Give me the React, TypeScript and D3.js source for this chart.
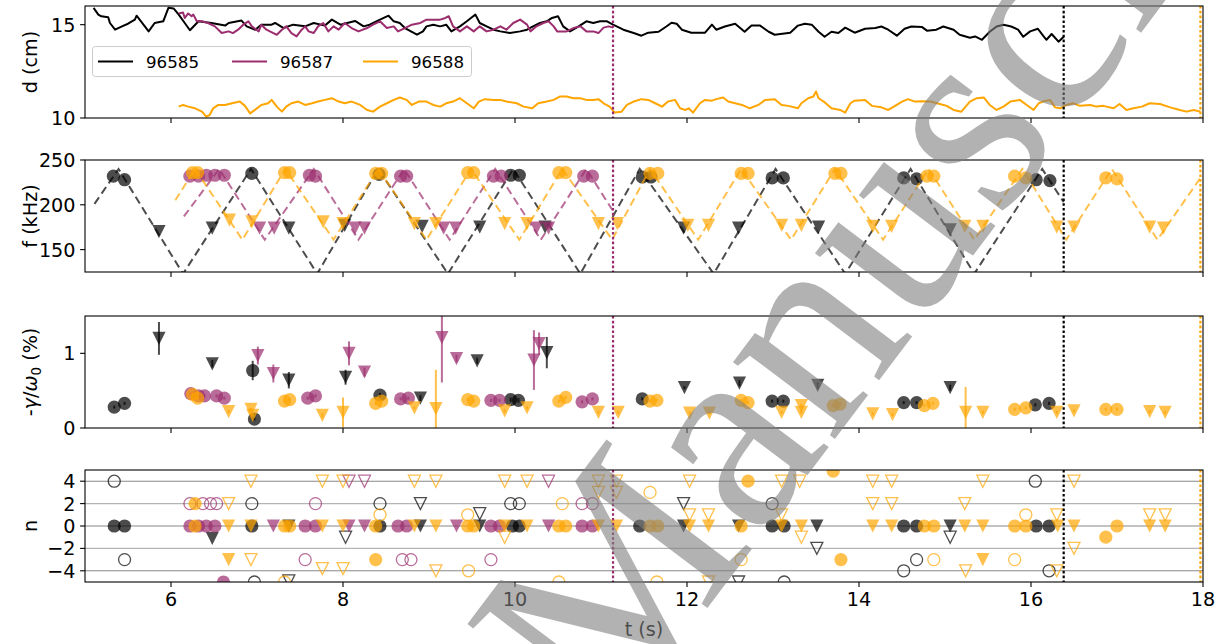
import React from 'react';
import * as d3 from 'd3';

const W = 1226, H = 644;
const X0 = 85, X1 = 1203;
const PANELS = [
  { top: 6, bottom: 118 },
  { top: 160, bottom: 272 },
  { top: 316, bottom: 428 },
  { top: 470, bottom: 582 },
];
const FONT = 'DejaVu Sans';
const FS = 19.2;
const FS_LEG = 16.7;

const tDomain = [5, 18];
const xTicks = [6, 8, 10, 12, 14, 16, 18];
const dDomain = [10, 16];
const dTicks = [10, 15];
const fDomain = [125, 250];
const fTicks = [150, 200, 250];
const gDomain = [0, 1.5];
const gTicks = [0, 1];
const nDomain = [-5, 5];
const nTicks = [-4, -2, 0, 2, 4];

const shots = ['96585', '96587', '96588'];
const shotColors: Record<string, string> = { '96585': '#000000', '96587': '#9b2d6e', '96588': '#ffa500' };
const endTimes: Record<string, number> = { '96585': 16.38, '96587': 11.14, '96588': 17.97 };

// Panel 1: distance d (cm) vs time
const dist96585 = [
  [5.10,15.90],[5.155,15.54],[5.19,15.45],[5.27,15.40],[5.29,15.09],[5.35,14.73],[5.43,14.91],[5.50,15.05],
  [5.58,15.27],[5.60,15.48],[5.68,15.00],[5.74,14.64],[5.81,15.09],[5.91,15.18],[5.97,15.90],[6.03,15.87],
  [6.09,15.54],[6.16,15.09],[6.22,14.70],[6.32,15.18],[6.47,15.09],[6.63,14.95],[6.67,15.09],[6.82,15.22],
  [6.88,14.91],[6.98,14.73],[7.05,15.00],[7.17,15.00],[7.21,15.09],[7.31,14.82],[7.42,15.00],[7.56,14.91],
  [7.66,15.09],[7.79,14.95],[7.87,15.27],[7.97,15.00],[8.14,15.20],[8.24,14.91],[8.31,15.00],[8.43,15.27],
  [8.53,15.48],[8.59,15.18],[8.66,15.09],[8.72,14.82],[8.86,14.46],[8.93,14.64],[8.97,14.91],[9.05,15.00],
  [9.13,14.91],[9.20,15.00],[9.26,14.64],[9.36,14.91],[9.44,15.18],[9.54,15.54],[9.59,15.09],[9.67,14.91],
  [9.75,14.73],[9.83,14.64],[9.94,14.55],[10.06,14.64],[10.14,14.73],[10.21,14.91],[10.29,15.09],[10.37,15.18],
  [10.43,15.36],[10.50,15.45],[10.56,14.91],[10.64,14.64],[10.74,14.91],[10.83,15.18],[10.91,15.09],[10.99,15.18],
  [11.07,15.18],[11.14,15.00],[11.26,14.73],[11.38,14.55],[11.47,14.41],[11.55,14.57],[11.67,14.62],[11.76,14.90],
  [11.82,15.10],[11.88,15.05],[11.94,14.73],[12.05,14.57],[12.21,14.57],[12.29,15.00],[12.34,14.73],[12.44,14.90],
  [12.56,15.05],[12.67,14.62],[12.75,14.95],[12.85,14.95],[12.95,14.62],[13.02,14.46],[13.20,14.57],[13.29,14.95],
  [13.37,15.05],[13.45,15.00],[13.53,14.62],[13.60,14.35],[13.68,14.62],[13.76,14.55],[13.84,14.84],[13.95,14.57],
  [14.07,14.78],[14.19,14.82],[14.26,14.90],[14.34,14.73],[14.44,14.41],[14.53,14.78],[14.61,14.90],[14.73,14.88],
  [14.79,14.68],[14.90,14.73],[14.98,14.90],[15.10,14.73],[15.17,14.46],[15.29,14.30],[15.35,14.37],[15.43,14.19],
  [15.52,14.62],[15.60,14.90],[15.68,15.00],[15.77,14.90],[15.85,14.73],[15.91,14.35],[15.99,14.64],[16.08,14.78],
  [16.14,14.41],[16.18,14.19],[16.24,14.50],[16.32,14.09],[16.38,14.35],
];
const dist96587 = [
  [6.09,15.60],[6.14,15.65],[6.16,15.36],[6.20,15.60],[6.24,15.45],[6.26,15.54],[6.30,15.18],[6.36,15.18],
  [6.43,15.09],[6.51,14.91],[6.59,14.55],[6.67,14.64],[6.72,14.55],[6.78,14.73],[6.84,15.00],[6.90,15.18],
  [6.94,14.91],[7.02,14.64],[7.05,15.00],[7.11,14.73],[7.19,14.55],[7.23,14.46],[7.29,14.73],[7.34,14.91],
  [7.40,14.55],[7.46,14.37],[7.52,14.73],[7.56,14.91],[7.60,14.64],[7.66,14.55],[7.71,14.91],[7.77,15.09],
  [7.83,14.64],[7.89,14.91],[7.95,14.73],[8.02,15.09],[8.10,14.82],[8.18,14.64],[8.28,14.82],[8.35,15.00],
  [8.43,15.18],[8.51,14.82],[8.59,14.91],[8.64,14.64],[8.72,14.82],[8.80,15.00],[8.90,15.09],[8.97,15.27],
  [9.13,15.27],[9.19,15.36],[9.23,15.45],[9.28,14.91],[9.36,14.64],[9.44,14.91],[9.52,14.64],[9.59,14.91],
  [9.67,14.64],[9.75,14.73],[9.83,14.91],[9.90,14.73],[9.98,15.09],[10.06,15.27],[10.14,15.00],[10.18,14.64],
  [10.25,14.91],[10.33,15.09],[10.39,15.18],[10.45,14.91],[10.49,14.64],[10.60,14.64],[10.68,14.82],[10.76,14.91],
  [10.83,14.64],[10.91,14.64],[10.97,14.55],[11.03,14.84],[11.09,14.91],[11.14,14.84],
];
const dist96588 = [
  [6.09,10.61],[6.14,10.70],[6.20,10.61],[6.28,10.52],[6.36,10.34],[6.41,10.07],[6.45,10.16],[6.49,10.52],
  [6.55,10.70],[6.63,10.70],[6.71,10.79],[6.80,10.88],[6.86,10.65],[6.92,10.25],[6.98,10.45],[7.05,10.70],
  [7.13,10.79],[7.17,10.97],[7.23,10.61],[7.29,10.34],[7.34,10.61],[7.40,10.79],[7.48,10.88],[7.56,10.70],
  [7.64,10.79],[7.71,10.88],[7.79,10.97],[7.87,11.06],[7.95,10.88],[8.02,10.79],[8.10,10.88],[8.20,10.70],
  [8.28,10.43],[8.35,10.34],[8.43,10.61],[8.51,10.79],[8.59,10.97],[8.66,11.10],[8.74,10.97],[8.80,10.70],
  [8.88,10.88],[8.97,10.88],[9.05,10.70],[9.13,10.61],[9.20,10.79],[9.28,10.88],[9.36,11.06],[9.44,10.79],
  [9.52,10.52],[9.58,10.88],[9.65,11.01],[9.75,10.97],[9.83,10.97],[9.90,10.88],[10.02,10.79],[10.10,10.61],
  [10.20,10.52],[10.27,10.79],[10.37,10.88],[10.45,10.97],[10.52,11.15],[10.60,11.15],[10.68,11.06],[10.76,11.06],
  [10.83,10.97],[10.91,10.97],[10.97,11.01],[11.03,10.79],[11.10,10.61],[11.16,10.29],[11.24,10.34],[11.30,10.70],
  [11.38,10.88],[11.47,11.01],[11.55,10.97],[11.63,10.79],[11.71,10.61],[11.78,10.88],[11.86,10.97],[11.92,10.52],
  [11.98,10.43],[12.02,10.52],[12.07,10.29],[12.15,10.79],[12.21,10.97],[12.29,10.93],[12.34,11.01],[12.42,11.10],
  [12.48,10.88],[12.56,10.79],[12.64,10.70],[12.73,10.52],[12.83,10.70],[12.91,10.97],[13.02,11.01],[13.10,10.70],
  [13.18,10.65],[13.29,10.52],[13.33,10.79],[13.41,11.06],[13.47,11.15],[13.50,11.42],[13.53,11.06],[13.59,10.88],
  [13.68,10.52],[13.78,10.43],[13.84,10.29],[13.90,10.79],[13.95,10.93],[14.07,10.97],[14.15,10.65],[14.26,10.57],
  [14.34,10.43],[14.42,10.65],[14.50,10.88],[14.57,11.01],[14.65,10.88],[14.73,10.90],[14.83,10.88],[14.94,10.75],
  [15.02,10.65],[15.10,10.43],[15.19,10.34],[15.29,10.88],[15.37,11.06],[15.45,11.10],[15.52,10.70],[15.60,10.43],
  [15.68,10.61],[15.76,10.88],[15.87,10.97],[15.95,10.70],[16.03,10.43],[16.09,10.79],[16.14,10.88],[16.22,10.97],
  [16.28,10.57],[16.34,10.52],[16.41,10.70],[16.49,10.79],[16.57,10.65],[16.69,10.70],[16.76,10.61],[16.84,10.65],
  [16.96,10.52],[17.03,10.75],[17.11,10.43],[17.19,10.52],[17.29,10.61],[17.38,10.79],[17.50,10.75],[17.62,10.57],
  [17.73,10.43],[17.81,10.34],[17.89,10.43],[17.97,10.34],
];

// Panel 2: frequency sweep (dashed) and detected modes
const sweep96585 = [[5.11,201],[5.39,240],[6.14,123],[6.93,240],[7.70,123],[8.41,240],[9.22,123],[9.98,240],[10.76,123],[11.45,240],[12.31,123],[13.03,240],[13.84,123],[14.60,240],[15.34,123],[16.13,240],[16.38,203]];
const sweep96587 = [[6.15,187],[6.56,240],[7.09,161],[7.66,240],[8.18,161],[8.71,240],[9.24,161],[9.77,240],[10.30,161],[10.83,240],[11.14,193]];
const sweep96588 = [[6.05,205],[6.28,240],[6.83,161],[7.33,240],[7.89,161],[8.41,240],[8.97,161],[9.49,240],[10.05,161],[10.55,240],[11.13,161],[11.57,240],[12.13,161],[12.63,240],[13.21,161],[13.72,240],[14.28,161],[14.81,240],[15.34,161],[15.90,240],[16.41,161],[16.94,240],[17.47,161],[17.97,230]];

const freqCirc96585 = [[5.33,232],[5.46,228],[6.94,235],[8.42,234],[9.95,233],[10.05,233],[11.48,231],[11.58,231],[12.99,230],[13.12,230],[14.52,230],[14.67,229],[16.06,228],[16.22,227]];
const freqTri96585 = [[5.86,170],[6.48,174],[7.37,174],[8.02,177],[8.92,176],[9.59,175],[10.35,175],[11.96,174],[12.60,174],[13.53,175],[15.06,172]];
const freqCirc96587 = [[6.22,232],[6.32,232],[6.41,233],[6.51,233],[6.62,233],[7.61,233],[7.68,232],[8.67,232],[8.74,232],[9.75,232],[9.84,232],[10.80,232],[10.90,232]];
const freqTri96587 = [[7.03,174],[7.20,174],[8.14,174],[8.25,174],[9.17,174],[9.31,174],[10.25,174],[10.39,174]];
const freqCirc96588 = [[6.25,236],[6.31,236],[7.32,236],[7.38,236],[8.38,235],[8.45,235],[9.45,236],[9.52,236],[10.51,236],[10.59,236],[11.57,235],[11.66,235],[12.63,235],[12.71,235],[13.72,235],[13.79,235],[14.79,232],[14.87,232],[15.81,232],[15.94,230],[16.87,230],[17.00,229]];
const freqTri96588 = [[6.68,183],[6.94,181],[7.77,181],[8.00,179],[8.83,179],[9.08,179],[9.88,179],[10.14,179],[10.97,179],[11.19,179],[12.01,177],[12.25,177],[13.10,177],[13.33,177],[14.16,176],[14.38,176],[15.23,176],[15.44,176],[16.30,175],[16.50,175],[17.38,175],[17.54,174]];

// Panel 3: damping rate -gamma/omega0 (%) [t, value, error]
const gamCirc96585 = [[5.34,0.28,0.02],[5.46,0.33,0.02],[6.95,0.77,0.13],[6.97,0.12,0.02],[8.43,0.44,0.03],[9.95,0.38,0.03],[10.04,0.37,0.03],[11.48,0.39,0.02],[12.99,0.36,0.02],[13.12,0.36,0.02],[14.52,0.34,0.02],[14.67,0.34,0.02],[16.05,0.31,0.02],[16.21,0.33,0.02]];
const gamTri96585 = [[5.86,1.20,0.22],[6.48,0.86,0.05],[7.37,0.64,0.11],[8.03,0.68,0.10],[8.90,0.40,0.04],[9.56,0.90,0.04],[10.37,1.01,0.21],[11.97,0.54,0.02],[12.61,0.60,0.04],[13.52,0.57,0.04],[15.06,0.54,0.04]];
const gamCirc96587 = [[6.23,0.46,0.02],[6.32,0.43,0.02],[6.39,0.43,0.02],[6.53,0.43,0.02],[6.62,0.40,0.02],[7.59,0.40,0.02],[7.68,0.43,0.02],[8.67,0.39,0.02],[8.76,0.40,0.02],[9.72,0.37,0.02],[9.82,0.37,0.02],[10.78,0.35,0.02],[10.90,0.39,0.02]];
const gamTri96587 = [[7.01,0.97,0.12],[7.19,0.73,0.12],[8.07,1.00,0.16],[8.25,0.75,0.06],[9.15,1.21,0.60],[9.32,0.93,0.05],[10.22,0.91,0.40],[10.28,1.13,0.15]];
const gamCirc96588 = [[6.25,0.45,0.02],[6.31,0.40,0.02],[7.32,0.36,0.02],[7.38,0.38,0.02],[8.38,0.33,0.02],[8.45,0.36,0.02],[9.45,0.38,0.02],[9.52,0.36,0.02],[10.51,0.36,0.02],[10.59,0.41,0.02],[11.57,0.36,0.02],[11.65,0.37,0.02],[12.63,0.37,0.02],[12.71,0.34,0.02],[13.70,0.30,0.02],[13.78,0.32,0.02],[14.76,0.30,0.02],[14.86,0.33,0.02],[15.81,0.25,0.02],[15.94,0.27,0.02],[16.87,0.25,0.02],[17.00,0.25,0.02]];
const gamTri96588 = [[6.67,0.22,0.02],[6.93,0.25,0.02],[6.95,0.17,0.02],[7.76,0.17,0.03],[8.00,0.21,0.20],[8.83,0.27,0.02],[9.08,0.26,0.52],[9.88,0.23,0.02],[10.14,0.27,0.02],[10.97,0.21,0.02],[11.20,0.21,0.02],[12.03,0.20,0.02],[12.26,0.20,0.02],[13.10,0.21,0.02],[13.33,0.30,0.02],[13.33,0.21,0.02],[14.16,0.19,0.02],[14.39,0.18,0.02],[15.24,0.21,0.34],[15.44,0.21,0.02],[16.30,0.21,0.02],[16.50,0.23,0.02],[17.38,0.22,0.02],[17.56,0.21,0.02]];

// Panel 4: toroidal mode number n (filled = best fit, open = alternatives)
const nFillCirc96585 = [[5.34,0],[5.46,0],[6.94,0],[8.43,0],[9.97,0],[10.05,0],[11.45,0],[12.99,0],[13.13,0],[14.52,0],[14.67,0],[16.06,0],[16.21,0]];
const nFillTri96585 = [[6.48,-1.1],[7.37,0],[8.90,0],[9.59,0],[11.96,0],[12.60,0],[13.51,0],[15.06,0]];
const nOpenCirc96585 = [[5.34,4],[5.46,-3],[6.94,2],[6.97,-5],[8.43,2],[9.95,2],[10.05,2],[12.99,2],[13.13,-5],[14.52,-4],[14.67,-3],[16.05,4],[16.21,-4]];
const nOpenTri96585 = [[7.37,-4.9],[8.03,-1],[8.90,2],[9.59,1.1],[11.96,2],[12.60,-5],[13.51,-2],[15.06,-1]];
const nFillCirc96587 = [[6.22,0],[6.32,0],[6.41,0],[6.51,0],[6.61,-5],[7.56,0],[7.68,0],[8.64,0],[8.74,0],[9.72,0],[9.82,0],[10.78,0],[10.90,0]];
const nFillTri96587 = [[7.19,0],[8.07,0],[8.25,0],[9.32,0],[10.39,0]];
const nOpenCirc96587 = [[6.22,2],[6.37,2],[6.46,2],[6.53,2],[7.56,-3],[7.68,2],[8.69,-3],[8.79,-3],[9.72,-3],[10.78,2],[10.90,2]];
const nOpenTri96587 = [[8.07,4],[8.25,4],[10.39,4]];
const nFillCirc96588 = [[6.28,0],[6.28,2],[7.32,0],[7.38,0],[8.38,0],[8.38,-3],[9.45,0],[9.52,0],[10.51,0],[10.59,0],[11.57,0],[11.66,0],[12.63,0],[12.71,4],[13.70,4.9],[13.79,-3],[14.76,0],[14.87,0],[15.81,0],[15.94,0],[16.87,-1],[17.00,0]];
const nFillTri96588 = [[6.67,0],[6.67,-3],[6.93,0],[7.76,0],[8.00,0],[8.83,0],[9.08,0],[9.88,0],[10.14,0],[10.97,0],[11.18,0],[12.03,0],[12.25,0],[13.10,0],[13.33,0],[14.16,0],[14.38,0],[15.23,0],[15.44,0],[15.44,-3],[16.31,0],[16.50,0],[17.38,0],[17.56,0]];
const nOpenCirc96588 = [[7.32,-5],[8.43,1],[9.45,1],[9.46,-4],[10.51,-5],[10.55,2],[11.57,3],[11.65,-5],[12.63,-3],[14.87,-3],[15.81,-3],[15.94,1]];
const nOpenTri96588 = [[6.67,2],[6.93,4],[6.93,-3],[7.76,4],[7.76,-3.8],[8.00,4],[8.00,-3.8],[8.83,4],[9.08,4],[9.08,-4],[9.88,4],[9.88,-1],[10.14,4],[10.97,4],[10.97,3],[11.18,4],[11.18,3],[12.03,4],[12.03,1],[12.25,1],[12.25,-5],[13.10,4],[13.10,1],[13.31,4],[13.33,-1],[14.16,4],[14.16,2],[14.38,4],[14.38,2],[15.23,2],[15.24,-4],[15.44,4],[16.30,1],[16.30,-4],[16.50,4],[16.50,-2],[17.38,1],[17.56,1]];

const distData: Record<string, number[][]> = { '96585': dist96585, '96587': dist96587, '96588': dist96588 };
const sweepData: Record<string, number[][]> = { '96585': sweep96585, '96587': sweep96587, '96588': sweep96588 };
const freqCirc: Record<string, number[][]> = { '96585': freqCirc96585, '96587': freqCirc96587, '96588': freqCirc96588 };
const freqTri: Record<string, number[][]> = { '96585': freqTri96585, '96587': freqTri96587, '96588': freqTri96588 };
const gamCirc: Record<string, number[][]> = { '96585': gamCirc96585, '96587': gamCirc96587, '96588': gamCirc96588 };
const gamTri: Record<string, number[][]> = { '96585': gamTri96585, '96587': gamTri96587, '96588': gamTri96588 };
const nFillCirc: Record<string, number[][]> = { '96585': nFillCirc96585, '96587': nFillCirc96587, '96588': nFillCirc96588 };
const nFillTri: Record<string, number[][]> = { '96585': nFillTri96585, '96587': nFillTri96587, '96588': nFillTri96588 };
const nOpenCirc: Record<string, number[][]> = { '96585': nOpenCirc96585, '96587': nOpenCirc96587, '96588': nOpenCirc96588 };
const nOpenTri: Record<string, number[][]> = { '96585': nOpenTri96585, '96587': nOpenTri96587, '96588': nOpenTri96588 };

const MS = 6.6; // marker half size
const ALPHA = 0.7;

function triPath(cx: number, cy: number, s: number) {
  return `M${cx - s},${cy - s}L${cx + s},${cy - s}L${cx},${cy + s}Z`;
}
function fmt(v: number) {
  return v < 0 ? '\u2212' + Math.abs(v) : String(v);
}

export default function App() {
  const x = d3.scaleLinear().domain(tDomain).range([X0, X1]);
  const yD = d3.scaleLinear().domain(dDomain).range([PANELS[0].bottom, PANELS[0].top]);
  const yF = d3.scaleLinear().domain(fDomain).range([PANELS[1].bottom, PANELS[1].top]);
  const yG = d3.scaleLinear().domain(gDomain).range([PANELS[2].bottom, PANELS[2].top]);
  const yN = d3.scaleLinear().domain(nDomain).range([PANELS[3].bottom, PANELS[3].top]);
  const scalesY = [yD, yF, yG, yN];
  const ticksY = [dTicks, fTicks, gTicks, nTicks];

  const lineGen = (y: d3.ScaleLinear<number, number>) =>
    d3.line<number[]>().x((p) => x(p[0])).y((p) => y(p[1]));

  const axisFrame = (i: number) => {
    const p = PANELS[i];
    const y = scalesY[i];
    return (
      <g key={'ax' + i}>
        <rect x={X0} y={p.top} width={X1 - X0} height={p.bottom - p.top} fill="none" stroke="#000" strokeWidth={1.1} />
        {xTicks.map((t) => (
          <line key={'xt' + t} x1={x(t)} x2={x(t)} y1={p.bottom} y2={p.bottom + 4.9} stroke="#000" strokeWidth={1.1} />
        ))}
        {ticksY[i].map((v) => (
          <g key={'yt' + v}>
            <line x1={X0 - 4.9} x2={X0} y1={y(v)} y2={y(v)} stroke="#000" strokeWidth={1.1} />
            <text x={X0 - 9.5} y={y(v)} dy="0.36em" textAnchor="end" fontSize={FS} fill="#000">{fmt(v)}</text>
          </g>
        ))}
      </g>
    );
  };

  const vlines = (i: number) => {
    const p = PANELS[i];
    return shots.map((s) => (
      <line key={'vl' + i + s} x1={x(endTimes[s])} x2={x(endTimes[s])} y1={p.top} y2={p.bottom}
        stroke={shotColors[s]} strokeWidth={2.2} strokeDasharray="2.6,2.2" />
    ));
  };

  const yLabels = [
    { text: 'd (cm)', i: 0 },
    { text: 'f (kHz)', i: 1 },
    { text: 'n', i: 3 },
  ];

  return (
    <div style={{ position: 'absolute', left: 0, top: 0 }}>
      <svg width={W} height={H} fontFamily={FONT} style={{ display: 'block' }}>
        <rect width={W} height={H} fill="#fff" />
        <defs>
          {PANELS.map((p, i) => (
            <clipPath id={'clip' + i} key={'c' + i}>
              <rect x={X0} y={p.top} width={X1 - X0} height={p.bottom - p.top} />
            </clipPath>
          ))}
        </defs>

        {/* Panel 1 */}
        <g clipPath="url(#clip0)">
          {shots.map((s) => (
            <path key={'d' + s} d={lineGen(yD)(distData[s]) || ''} fill="none" stroke={shotColors[s]} strokeWidth={2} strokeLinejoin="round" />
          ))}
          {vlines(0)}
        </g>

        {/* Panel 2 */}
        <g clipPath="url(#clip1)">
          {shots.map((s) => (
            <g key={'f' + s}>
              <path d={lineGen(yF)(sweepData[s]) || ''} fill="none" stroke={shotColors[s]} strokeOpacity={ALPHA} strokeWidth={2} strokeDasharray="8,4.5" />
              {freqCirc[s].map((p, k) => (
                <circle key={'fc' + k} cx={x(p[0])} cy={yF(p[1])} r={MS} fill={shotColors[s]} fillOpacity={ALPHA} />
              ))}
              {freqTri[s].map((p, k) => (
                <path key={'ft' + k} d={triPath(x(p[0]), yF(p[1]), MS)} fill={shotColors[s]} fillOpacity={ALPHA} />
              ))}
            </g>
          ))}
          {vlines(1)}
        </g>

        {/* Panel 3 */}
        <g clipPath="url(#clip2)">
          {shots.map((s) => (
            <g key={'g' + s}>
              {gamCirc[s].map((p, k) => (
                <circle key={'gc' + k} cx={x(p[0])} cy={yG(p[1])} r={MS} fill={shotColors[s]} fillOpacity={ALPHA} />
              ))}
              {gamTri[s].map((p, k) => (
                <path key={'gt' + k} d={triPath(x(p[0]), yG(p[1]), MS)} fill={shotColors[s]} fillOpacity={ALPHA} />
              ))}
              {[...gamCirc[s], ...gamTri[s]].map((p, k) => (
                <line key={'ge' + k} x1={x(p[0])} x2={x(p[0])} y1={yG(p[1] - p[2])} y2={yG(p[1] + p[2])}
                  stroke={shotColors[s]} strokeOpacity={ALPHA} strokeWidth={2} />
              ))}
            </g>
          ))}
          {vlines(2)}
        </g>

        {/* Panel 4 */}
        <g clipPath="url(#clip3)">
          {nTicks.map((v) => (
            <line key={'gr' + v} x1={X0} x2={X1} y1={yN(v)} y2={yN(v)} stroke={v % 4 === 0 ? '#888' : '#b4b4b4'} strokeWidth={1.1} />
          ))}
          {shots.map((s) => (
            <g key={'n' + s}>
              {nFillCirc[s].map((p, k) => (
                <circle key={'nc' + k} cx={x(p[0])} cy={yN(p[1])} r={MS} fill={shotColors[s]} fillOpacity={ALPHA} />
              ))}
              {nFillTri[s].map((p, k) => (
                <path key={'nt' + k} d={triPath(x(p[0]), yN(p[1]), MS)} fill={shotColors[s]} fillOpacity={ALPHA} />
              ))}
              {nOpenCirc[s].map((p, k) => (
                <circle key={'noc' + k} cx={x(p[0])} cy={yN(p[1])} r={MS - 0.6} fill="none" stroke={shotColors[s]} strokeOpacity={ALPHA} strokeWidth={1.3} />
              ))}
              {nOpenTri[s].map((p, k) => (
                <path key={'not' + k} d={triPath(x(p[0]), yN(p[1]), MS - 0.6)} fill="none" stroke={shotColors[s]} strokeOpacity={ALPHA} strokeWidth={1.3} />
              ))}
            </g>
          ))}
          {vlines(3)}
        </g>

        {[0, 1, 2, 3].map((i) => axisFrame(i))}

        {/* x tick labels on bottom panel */}
        {xTicks.map((t) => (
          <text key={'xl' + t} x={x(t)} y={PANELS[3].bottom + 9.8} dy="0.76em" textAnchor="middle" fontSize={FS}>{t}</text>
        ))}
        <text x={(X0 + X1) / 2} y={629} textAnchor="middle" fontSize={FS} dy="0.35em">t (s)</text>

        {/* y labels */}
        {yLabels.map((l) => {
          const p = PANELS[l.i];
          const cy = (p.top + p.bottom) / 2;
          return (
            <text key={'yl' + l.i} transform={`translate(30,${cy}) rotate(-90)`} textAnchor="middle" dy="0.35em" fontSize={FS}>{l.text}</text>
          );
        })}
        <text transform={`translate(30,${(PANELS[2].top + PANELS[2].bottom) / 2}) rotate(-90)`} textAnchor="middle" dy="0.35em" fontSize={FS}>
          <tspan>-</tspan>
          <tspan fontStyle="italic">γ</tspan>
          <tspan>/</tspan>
          <tspan fontStyle="italic">ω</tspan>
          <tspan fontSize={FS * 0.7} dy="4">0</tspan>
          <tspan dy="-4"> (%)</tspan>
        </text>

        {/* legend */}
        <g>
          <rect x={92.5} y={46.5} width={379} height={30} rx={3} fill="#fff" fillOpacity={0.8} stroke="#ccc" strokeWidth={1} />
          {shots.map((s, k) => {
            const lx = [98, 232, 363][k];
            return (
              <g key={'lg' + s}>
                <line x1={lx} x2={lx + 35} y1={61.5} y2={61.5} stroke={shotColors[s]} strokeWidth={2} />
                <text x={lx + 48} y={61.5} dy="0.36em" fontSize={FS_LEG}>{s}</text>
              </g>
            );
          })}
        </g>

        {/* watermark */}
        <text transform="translate(608,740) rotate(-53)" fontFamily="Liberation Serif" fontSize={278} fill="#7f7f7f" fillOpacity={0.6}>Manuscript</text>
      </svg>
    </div>
  );
}
